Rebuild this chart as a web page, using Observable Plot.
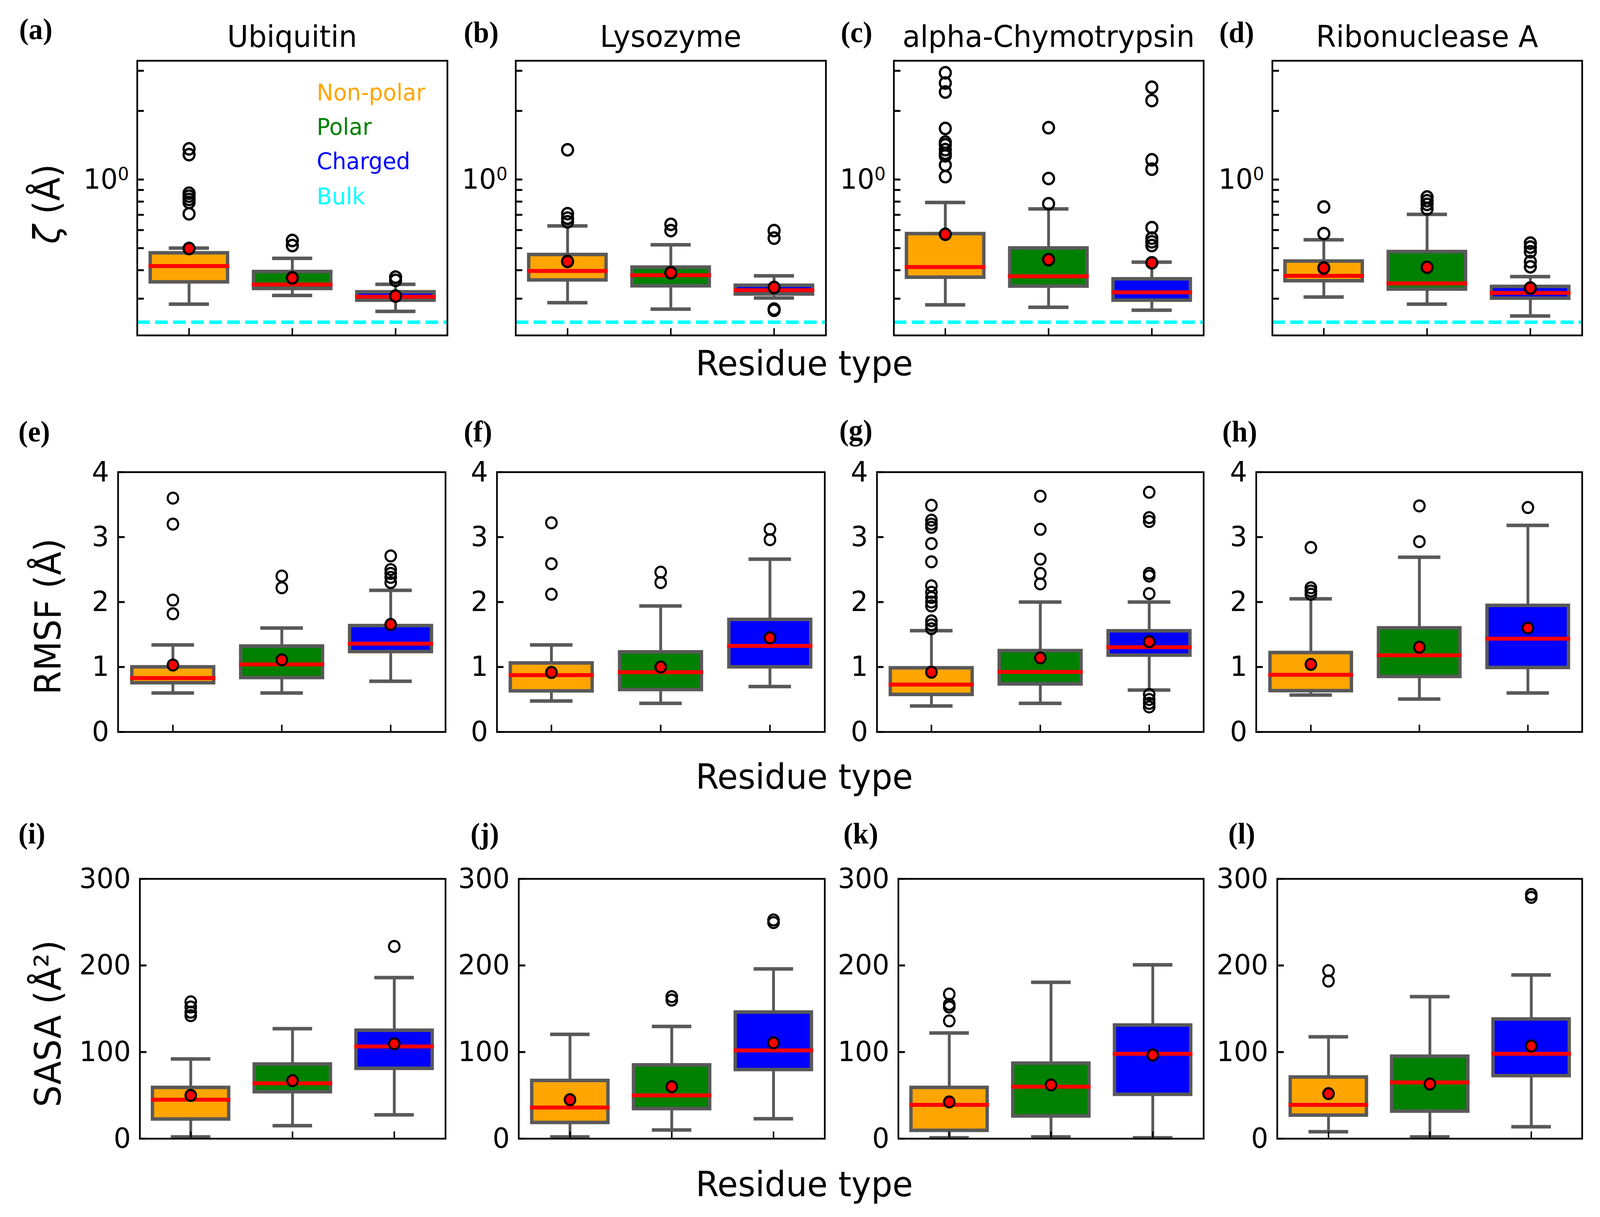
<!DOCTYPE html>
<html>
<head>
<meta charset="utf-8">
<script src="https://cdn.jsdelivr.net/npm/d3@7"></script>
<script src="https://cdn.jsdelivr.net/npm/@observablehq/plot@0.6"></script>
<style>
html,body{margin:0;padding:0;background:#fff;overflow:hidden;}
#page{position:relative;width:4261px;height:3115px;overflow:hidden;background:#fff;transform-origin:0 0;}
#page>div{position:absolute;white-space:nowrap;}
#page svg{position:absolute;overflow:visible;}
</style>
</head>
<body>
<div id="page"></div>
<script>
// ---------- categories ----------
const residueTypes = ["Non-polar", "Polar", "Charged"];
const typeColors = ["#FFA500", "#008000", "#0000FF"];
const legendNames = ["Non-polar", "Polar", "Charged", "Bulk"];
const legendColors = ["#FFA500", "#008000", "#0000FF", "#00FFFF"];
const proteinTitles = ["Ubiquitin", "Lysozyme", "alpha-Chymotrypsin", "Ribonuclease A"];
const panelTags = ["(a)","(b)","(c)","(d)","(e)","(f)","(g)","(h)","(i)","(j)","(k)","(l)"];
const bulkZeta = 0.2365;

// ---------- values: each row = [whisker low, Q1, median, Q3, whisker high, mean] ----------
const zetaUbiquitin   = [[.284,.355,.417,.476,.50,.498],[.31,.332,.346,.394,.451,.37],[.264,.295,.306,.321,.347,.308]];
const zetaLysozyme    = [[.288,.362,.397,.468,.626,.437],[.27,.341,.38,.412,.517,.39],[.302,.314,.327,.343,.378,.336]];
const zetaChymo       = [[.282,.372,.413,.578,.793,.575],[.275,.34,.376,.50,.743,.445],[.267,.295,.32,.366,.434,.431]];
const zetaRibonuclease= [[.305,.359,.378,.438,.544,.409],[.284,.33,.35,.482,.703,.412],[.252,.301,.318,.339,.375,.334]];
const rmsfUbiquitin   = [[.6,.755,.83,1.0,1.34,1.03],[.6,.835,1.04,1.32,1.6,1.11],[.78,1.235,1.36,1.635,2.18,1.655]];
const rmsfLysozyme    = [[.476,.63,.875,1.06,1.34,.917],[.44,.65,.92,1.23,1.94,1.0],[.7,1.0,1.325,1.73,2.66,1.45]];
const rmsfChymo       = [[.4,.575,.73,.985,1.56,.92],[.44,.737,.925,1.25,2.0,1.14],[.645,1.18,1.305,1.555,2.0,1.39]];
const rmsfRibonuclease= [[.568,.633,.88,1.22,2.05,1.04],[.507,.852,1.18,1.6,2.69,1.305],[.6,.99,1.436,1.946,3.18,1.6]];
const sasaUbiquitin   = [[2,22.5,45,59,92,50],[15,54,64,86,127,67],[27.5,81,106.5,125,186,109.5]];
const sasaLysozyme    = [[2,18.5,36,67,120.5,45],[10,34.5,50,85,129.6,60],[23,79.6,102,146,196,110.6]];
const sasaChymo       = [[1,9.4,39,59,122,42.4],[2,26,60,87,180.6,62],[1,51,98,131,200.8,96.6]];
const sasaRibonuclease= [[8,27,39,71,117.6,52],[2,31.6,65,95,164,63],[13.8,72.6,98,138,189,107]];

// ---------- outliers per residue type ----------
const zetaUbiquitinOut    = [[1.363,1.286,.871,.845,.818,.793,.707],[.54,.513],[.373,.361]];
const zetaLysozymeOut     = [[1.35,.708,.677,.652],[.636,.597],[.597,.553,.27,.267]];
const zetaChymoOut        = [[2.94,2.65,2.42,1.675,1.459,1.42,1.352,1.303,1.27,1.157,1.03],[1.688,1.01,.783],[2.54,2.22,1.22,1.11,.615,.553,.533,.513]];
const zetaRibonucleaseOut = [[.758,.579],[.838,.807,.778,.743],[.526,.505,.482,.436,.414]];
const rmsfUbiquitinOut    = [[3.6,3.2,2.03,1.82],[2.4,2.22],[2.71,2.5,2.44,2.38,2.3]];
const rmsfLysozymeOut     = [[3.22,2.59,2.12],[2.46,2.3],[3.12,2.96]];
const rmsfChymoOut        = [[3.49,3.26,3.2,3.15,2.9,2.62,2.25,2.15,2.07,2.0,1.94,1.71,1.65,1.59],[3.63,3.12,2.66,2.44,2.28],[3.69,3.3,3.24,2.44,2.4,2.13,.576,.5,.44,.385]];
const rmsfRibonucleaseOut = [[2.84,2.22,2.17,2.12],[3.48,2.93],[3.455]];
const sasaUbiquitinOut    = [[158,152,146,142],[],[222]];
const sasaLysozymeOut     = [[],[164,160],[252.5,249.5]];
const sasaChymoOut        = [[167,155,152,136],[],[]];
const sasaRibonucleaseOut = [[194,182],[],[282,278.6]];

// ---------- axis ticks ----------
const zetaTicks = [.3,.4,.5,.6,.7,.8,.9,1,2,3];
const rmsfTicks = [0,1,2,3,4];
const sasaTicks = [0,100,200,300];

// ---------- layout ----------
const rowLayouts = [
  {top:155,  bottom:858,  lefts:[365,1373,2380,3388], rights:[1191,2199,3205,4213], sw:6,   r:14.5},
  {top:1208, bottom:1873, lefts:[314,1323,2335,3345], rights:[1186,2196,3205,4213], sw:5.5, r:14},
  {top:2249, bottom:2914, lefts:[372,1381,2392,3401], rights:[1186,2196,3205,4213], sw:5.5, r:14}
];
const rowScales = [
  {y:{type:"log", domain:[.207,3.32]}, ticks:zetaTicks, fmt:d => d === 1 ? "10⁰" : "",
   stats:[zetaUbiquitin,zetaLysozyme,zetaChymo,zetaRibonuclease],
   out:[zetaUbiquitinOut,zetaLysozymeOut,zetaChymoOut,zetaRibonucleaseOut]},
  {y:{type:"linear", domain:[0,4]}, ticks:rmsfTicks, fmt:d => String(d),
   stats:[rmsfUbiquitin,rmsfLysozyme,rmsfChymo,rmsfRibonuclease],
   out:[rmsfUbiquitinOut,rmsfLysozymeOut,rmsfChymoOut,rmsfRibonucleaseOut]},
  {y:{type:"linear", domain:[0,300]}, ticks:sasaTicks, fmt:d => String(d),
   stats:[sasaUbiquitin,sasaLysozyme,sasaChymo,sasaRibonuclease],
   out:[sasaUbiquitinOut,sasaLysozymeOut,sasaChymoOut,sasaRibonucleaseOut]}
];
const tagSpots = [
  [51,100],[1235,108],[2239,108],[3247,108],
  [49,1130],[1235,1130],[2235,1127],[3255,1130],
  [49,2159],[1253,2159],[2246,2159],[3271,2159]
];
const residueLabelBaselines = [961, 2019, 3062];
const yLabels = [
  {html:"<i>ζ</i> (Å)", x:125, y:522},
  {html:"RMSF (Å)", x:128, y:1578},
  {html:"SASA (Å²)", x:128, y:2620}
];
const legendBaselineOffsets = [101, 189, 277, 367];

const page = document.getElementById("page");
// The window may be narrower than the 4261px layout: fit the width to it.
const fitX = Math.min(1, window.innerWidth / 4261);
page.style.transform = `scaleX(${fitX})`;
const BOX = "#595959";

function addText(html, left, baseline, size, family, color, extra) {
  const ratio = family.includes("Serif") ? .8375 : .846;
  const el = document.createElement("div");
  el.innerHTML = html;
  el.style.cssText = `left:${left}px;top:${baseline - ratio*size}px;font:${size}px/1 '${family}';color:${color};${extra||""}`;
  page.appendChild(el);
  return el;
}

const mL = 170, mR = 8, mT = 48, mB = 48;

rowLayouts.forEach((row, ri) => {
  const sc = rowScales[ri];
  row.lefts.forEach((left, ci) => {
    const W = row.rights[ci] - left, H = row.bottom - row.top;
    const capInset = W/3*.75*.24;
    const stats = sc.stats[ci].map((v,i) => ({type:residueTypes[i], color:typeColors[i],
      lo:v[0], q1:v[1], med:v[2], q3:v[3], hi:v[4], mean:v[5]}));
    const outliers = sc.out[ci].flatMap((vals,i) => vals.map(v => ({type:residueTypes[i], v})));
    const marks = [];
    if (ri === 0) marks.push(Plot.ruleY([bulkZeta], {stroke:"#00FFFF", strokeWidth:9, strokeDasharray:"34,14"}));
    marks.push(
      Plot.ruleX(stats, {x:"type", y1:"lo", y2:"hi", stroke:BOX, strokeWidth:7.5}),
      Plot.tickY(stats, {x:"type", y:"lo", stroke:BOX, strokeWidth:9, insetLeft:capInset, insetRight:capInset}),
      Plot.tickY(stats, {x:"type", y:"hi", stroke:BOX, strokeWidth:9, insetLeft:capInset, insetRight:capInset}),
      Plot.barY(stats, {x:"type", y1:"q1", y2:"q3", fill:"color", stroke:BOX, strokeWidth:9}),
      Plot.tickY(stats, {x:"type", y:"med", stroke:"#FF0000", strokeWidth:10, insetLeft:-4.5, insetRight:-4.5}),
      Plot.dot(outliers, {x:"type", y:"v", r:row.r, fill:"none", stroke:"#000", strokeWidth:row.sw}),
      Plot.dot(stats, {x:"type", y:"mean", r:row.r, fill:"#FF0000", stroke:"#000", strokeWidth:row.sw}),
      Plot.axisX({tickSize:-18, tickFormat:() => "", label:null, strokeWidth:4}),
      Plot.axisY({ticks:sc.ticks, tickFormat:sc.fmt, tickSize:-18, tickPadding:ri === 0 ? 40 : 42, label:null, fontSize:72, strokeWidth:5}),
      Plot.frame({stroke:"#000", strokeWidth:4.5, fill:"none"})
    );
    if (ri === 0 && ci === 0) {
      legendNames.forEach((name,i) => marks.push(Plot.text([name], {
        text:d => d, frameAnchor:"top-left", dx:478, dy:legendBaselineOffsets[i],
        textAnchor:"start", lineAnchor:"bottom", fill:legendColors[i], fontSize:59
      })));
    }
    const svg = Plot.plot({
      width:W+mL+mR, height:H+mT+mB,
      marginLeft:mL, marginRight:mR, marginTop:mT, marginBottom:mB,
      style:{fontFamily:"DejaVu Sans", background:"transparent", color:"#000", overflow:"visible"},
      x:{type:"band", domain:residueTypes, paddingInner:.25, paddingOuter:.125, axis:null},
      y:{...sc.y, axis:null},
      marks
    });
    svg.style.left = (left-mL)+"px";
    svg.style.top = (row.top-mT)+"px";
    svg.querySelectorAll("text").forEach(t => {
      if (t.textContent === "10⁰") {
        t.textContent = "10";
        const s = document.createElementNS("http://www.w3.org/2000/svg","tspan");
        s.setAttribute("dy","-0.45em");
        s.setAttribute("font-size","47");
        s.textContent = "0";
        t.appendChild(s);
      }
    });
    page.appendChild(svg);
    if (ri === 0) {
      addText(proteinTitles[ci], (left+row.rights[ci])/2, 120, 77, "DejaVu Sans", "#000", "transform:translateX(-50%);");
    }
  });
});

residueLabelBaselines.forEach(b => addText("Residue type", 2142, b, 89, "DejaVu Sans", "#000", "transform:translateX(-50%);"));

yLabels.forEach(l => {
  const el = document.createElement("div");
  el.innerHTML = l.html;
  el.style.cssText = `left:${l.x}px;top:${l.y}px;font:88px/1 'DejaVu Sans';color:#000;transform:translate(-50%,-50%) rotate(-90deg) scale(1,1.1);`;
  page.appendChild(el);
});

panelTags.forEach((tag,i) => addText(tag, tagSpots[i][0], tagSpots[i][1], 76, "Liberation Serif", "#000", "font-weight:bold;"));
</script>
</body>
</html>
